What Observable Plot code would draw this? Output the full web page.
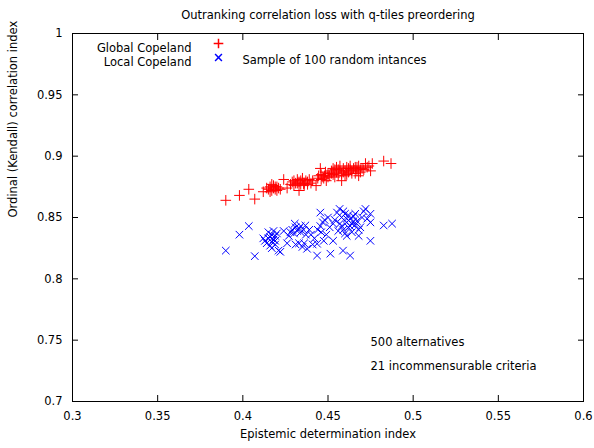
<!DOCTYPE html>
<html><head><meta charset="utf-8">
<script src="https://cdn.jsdelivr.net/npm/d3@7"></script>
<script src="https://cdn.jsdelivr.net/npm/@observablehq/plot@0.6"></script>
<style>html,body{margin:0;padding:0;background:#fff}</style>
</head><body><div id="chart"></div>
<script>
const title = "Outranking correlation loss with q-tiles preordering";
const xLabel = "Epistemic determination index";
const yLabel = "Ordinal (Kendall) correlation index";
const seriesNames = ["Global Copeland", "Local Copeland"];
const sampleNote = "Sample of 100 random intances";
const notes = ["500 alternatives", "21 incommensurable criteria"];
const xTicks = [0.3, 0.35, 0.4, 0.45, 0.5, 0.55, 0.6];
const xTickLabels = ["0.3", "0.35", "0.4", "0.45", "0.5", "0.55", "0.6"];
const yTicks = [0.7, 0.75, 0.8, 0.85, 0.9, 0.95, 1];
const yTickLabels = ["0.7", "0.75", "0.8", "0.85", "0.9", "0.95", "1"];

const globalX = [0.390,0.398,0.4035,0.407,0.412,0.415,
 0.416,0.417,0.418,0.418,0.419,0.420,0.421,0.417,0.419,
 0.424,0.426,0.429,0.430,0.431,0.432,0.433,0.433,0.434,0.435,0.436,0.4357,0.437,0.438,0.439,0.440,
 0.443,0.4445,0.4455,0.4475,0.4485,0.446,0.447,0.449,0.450,0.451,
 0.452,0.453,0.454,0.455,0.455,0.456,0.457,0.457,0.458,0.458,0.459,0.460,0.460,0.461,0.462,0.463,0.463,0.464,0.465,0.466,0.467,0.468,0.468,0.469,0.470,0.472,0.473,0.475,0.476,0.4827,0.487,
 0.414,0.416,0.420,0.422,0.428,0.430,0.432,0.434,0.436,0.438,0.441,0.444,0.446,0.448,0.450,0.452,0.453,0.454,0.456,0.459,0.461,0.462,0.464,0.466,0.467,0.469,0.471,0.474];
const globalY = [0.864,0.868,0.873,0.865,0.871,0.873,
 0.875,0.872,0.874,0.876,0.873,0.872,0.874,0.877,0.875,
 0.881,0.874,0.879,0.880,0.878,0.881,0.872,0.879,0.877,0.882,0.878,0.8775,0.880,0.879,0.881,0.878,
 0.876,0.884,0.890,0.882,0.887,0.885,0.883,0.880,0.886,0.884,
 0.888,0.885,0.889,0.887,0.891,0.884,0.892,0.888,0.880,0.886,0.890,0.888,0.884,0.891,0.887,0.892,0.889,0.886,0.890,0.891,0.888,0.884,0.892,0.889,0.890,0.894,0.891,0.888,0.894,0.896,0.894,
 0.874,0.871,0.875,0.873,0.877,0.876,0.878,0.880,0.876,0.877,0.880,0.882,0.881,0.884,0.883,0.886,0.890,0.883,0.889,0.887,0.885,0.890,0.888,0.886,0.891,0.887,0.889,0.892];

const localX = [0.390,0.398,0.4035,0.407,0.412,0.414,
 0.413,0.415,0.416,0.417,0.417,0.418,0.419,0.419,0.420,0.416,0.418,
 0.421,0.422,0.424,0.426,0.4305,0.428,0.429,0.430,0.431,0.432,0.433,0.434,0.4356,0.433,0.435,0.4367,0.436,0.4377,0.440,0.442,0.4436,0.4436,0.4455,0.4475,0.4455,0.448,0.446,0.4514,0.453,0.4553,0.4568,0.453,
 0.457,0.458,0.459,0.460,0.461,0.462,0.463,0.464,0.465,0.466,0.467,0.468,0.458,0.460,0.462,0.464,
 0.4588,0.461,0.468,0.472,0.4749,0.4749,0.4749,0.4827,0.4876,0.470,0.471,0.473,0.463,
 0.415,0.417,0.419,0.427,0.431,0.434,0.437,0.439,0.441,0.444,0.447,0.449,0.450,0.451,0.454,0.456,0.459,0.461,0.463,0.465,0.466,0.469];
const localY = [0.823,0.836,0.843,0.8185,0.833,0.829,
 0.831,0.838,0.834,0.830,0.836,0.832,0.828,0.835,0.837,0.827,0.839,
 0.823,0.822,0.839,0.829,0.845,0.838,0.840,0.837,0.842,0.839,0.841,0.838,0.840,0.829,0.826,0.8435,0.829,0.8245,0.836,0.833,0.8286,0.819,0.854,0.831,0.843,0.848,0.838,0.8205,0.831,0.854,0.857,0.845,
 0.845,0.850,0.840,0.853,0.846,0.842,0.849,0.838,0.851,0.844,0.847,0.840,0.843,0.837,0.852,0.845,
 0.823,0.835,0.835,0.857,0.831,0.846,0.853,0.8435,0.845,0.850,0.855,0.849,0.819,
 0.833,0.825,0.831,0.835,0.828,0.843,0.836,0.840,0.828,0.840,0.846,0.836,0.850,0.842,0.848,0.839,0.855,0.849,0.843,0.847,0.853,0.842];

const globalData = globalX.map((x, i) => ({x, y: globalY[i]}));
const localData = localX.map((x, i) => ({x, y: localY[i]}));
const blank = () => "";

const chart = Plot.plot({
  width: 594, height: 448,
  marginLeft: 72, marginRight: 11, marginTop: 33, marginBottom: 47,
  style: {fontFamily: "DejaVu Sans", fontSize: "11.5px", color: "#000", background: "#fff"},
  x: {domain: [0.3, 0.6], label: null},
  y: {domain: [0.7, 1], label: null},
  marks: [
    // inward tick marks on all four sides
    Plot.axisX(xTicks, {anchor: "bottom", tickSize: 6, dy: -6, tickFormat: blank, stroke: "#000"}),
    Plot.axisX(xTicks, {anchor: "top", tickSize: 6, dy: 6, tickFormat: blank, stroke: "#000"}),
    Plot.axisY(yTicks, {anchor: "left", tickSize: 6, dx: 6, tickFormat: blank, stroke: "#000"}),
    Plot.axisY(yTicks, {anchor: "right", tickSize: 6, dx: -6, tickFormat: blank, stroke: "#000"}),
    // tick labels
    Plot.axisX(xTicks, {anchor: "bottom", tickSize: 0, tickPadding: 10, tickFormat: d => xTickLabels[xTicks.indexOf(d)]}),
    Plot.axisY(yTicks, {anchor: "left", tickSize: 0, tickPadding: 10, tickFormat: d => yTickLabels[yTicks.indexOf(d)]}),
    Plot.frame({stroke: "#000"}),
    Plot.dot(globalData, {x: "x", y: "y", symbol: "plus", stroke: "red", r: 3.5, strokeWidth: 1}),
    Plot.dot(localData, {x: "x", y: "y", symbol: "times", stroke: "blue", r: 3.5, strokeWidth: 1}),
    Plot.text([title], {text: d => d, frameAnchor: "top", dy: -23}),
    Plot.text([xLabel], {text: d => d, frameAnchor: "bottom", dy: 36}),
    Plot.text([yLabel], {text: d => d, frameAnchor: "left", rotate: -90, dx: -59}),
    Plot.text([seriesNames[0]], {text: d => d, frameAnchor: "top-left", textAnchor: "end", dx: 119, dy: 10}),
    Plot.text([seriesNames[1]], {text: d => d, frameAnchor: "top-left", textAnchor: "end", dx: 119, dy: 24}),
    Plot.dot([0], {frameAnchor: "top-left", dx: 146, dy: 10, symbol: "plus", stroke: "red", r: 3.2}),
    Plot.dot([0], {frameAnchor: "top-left", dx: 146, dy: 24, symbol: "times", stroke: "blue", r: 3.2}),
    Plot.text([sampleNote], {text: d => d, frameAnchor: "top-left", textAnchor: "start", dx: 170, dy: 22}),
    Plot.text([notes[0]], {text: d => d, frameAnchor: "top-left", textAnchor: "start", dx: 298, dy: 304}),
    Plot.text([notes[1]], {text: d => d, frameAnchor: "top-left", textAnchor: "start", dx: 298, dy: 328})
  ]
});
document.getElementById("chart").appendChild(chart);
</script>
</body></html>
